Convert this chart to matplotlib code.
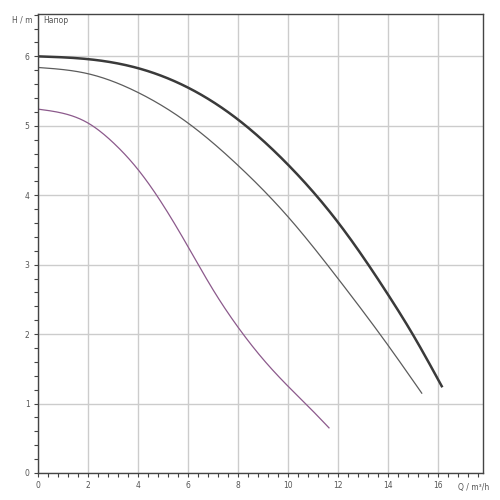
import numpy as np
import matplotlib
matplotlib.use("Agg")
import matplotlib.pyplot as plt
from matplotlib.ticker import MultipleLocator

# pump curves: Q (m3/h) vs H (m)
q_max = [0, 2, 4, 6, 8, 10, 12, 14, 15, 16.15]
h_max = [6.0, 5.96, 5.83, 5.55, 5.09, 4.44, 3.61, 2.57, 1.99, 1.25]

q_mid = [0, 2, 4, 6, 8, 10, 12, 14, 15.35]
h_mid = [5.84, 5.75, 5.48, 5.04, 4.43, 3.69, 2.8, 1.84, 1.15]

q_min = [0, 1, 2, 3, 4, 5, 6, 7, 8, 9, 10, 11, 11.64]
h_min = [5.24, 5.18, 5.04, 4.76, 4.37, 3.86, 3.26, 2.64, 2.1, 1.64, 1.25, 0.89, 0.65]

x_ticks = [0, 2, 4, 6, 8, 10, 12, 14, 16]
y_ticks = [0, 1, 2, 3, 4, 5, 6]


def spline(x, y, n=300):
    # natural cubic spline through the read points
    x = np.asarray(x, float)
    y = np.asarray(y, float)
    N = len(x)
    h = np.diff(x)
    A = np.zeros((N, N))
    r = np.zeros(N)
    A[0, 0] = A[-1, -1] = 1
    for i in range(1, N - 1):
        A[i, i - 1] = h[i - 1]
        A[i, i] = 2 * (h[i - 1] + h[i])
        A[i, i + 1] = h[i]
        r[i] = 6 * ((y[i + 1] - y[i]) / h[i] - (y[i] - y[i - 1]) / h[i - 1])
    M = np.linalg.solve(A, r)
    xs = np.linspace(x[0], x[-1], n)
    k = np.clip(np.searchsorted(x, xs) - 1, 0, N - 2)
    a = x[k + 1] - xs
    b = xs - x[k]
    hk = h[k]
    ys = (M[k] * a**3 + M[k + 1] * b**3) / (6 * hk) \
        + (y[k] / hk - M[k] * hk / 6) * a + (y[k + 1] / hk - M[k + 1] * hk / 6) * b
    return xs, ys


fig = plt.figure(figsize=(5, 5), dpi=100)
ax = fig.add_axes([0.076, 0.054, 0.89, 0.918])

ax.plot(*spline(q_max, h_max), color="#3a3a3a", lw=1.8)
ax.plot(*spline(q_mid, h_mid), color="#5c5c5c", lw=0.9)
ax.plot(*spline(q_min, h_min), color="#8c5a8c", lw=0.9)

ax.set_xlim(0, 17.8)
ax.set_ylim(0, 6.61)
ax.set_xticks(x_ticks)
ax.set_yticks(y_ticks)
ax.xaxis.set_minor_locator(MultipleLocator(0.4))
ax.yaxis.set_minor_locator(MultipleLocator(0.2))
ax.tick_params(which="both", direction="out", length=3, width=0.8, color="#444444",
               labelsize=5.5, labelcolor="#555555", pad=3)
ax.grid(True, which="major", color="#cccccc", lw=1)
for s in ax.spines.values():
    s.set_color("#444444")
    s.set_linewidth(1)

ax.text(17.44, -0.14, "Q / m³/h", ha="center", va="top", fontsize=5.5, color="#555555")
ax.text(-0.2, 6.52, "H / m", ha="right", va="center", fontsize=5.5, color="#555555")
ax.text(0.2, 6.52, "Напор", ha="left", va="center", fontsize=5.5, color="#555555")

fig.savefig("out.png", dpi=100)
